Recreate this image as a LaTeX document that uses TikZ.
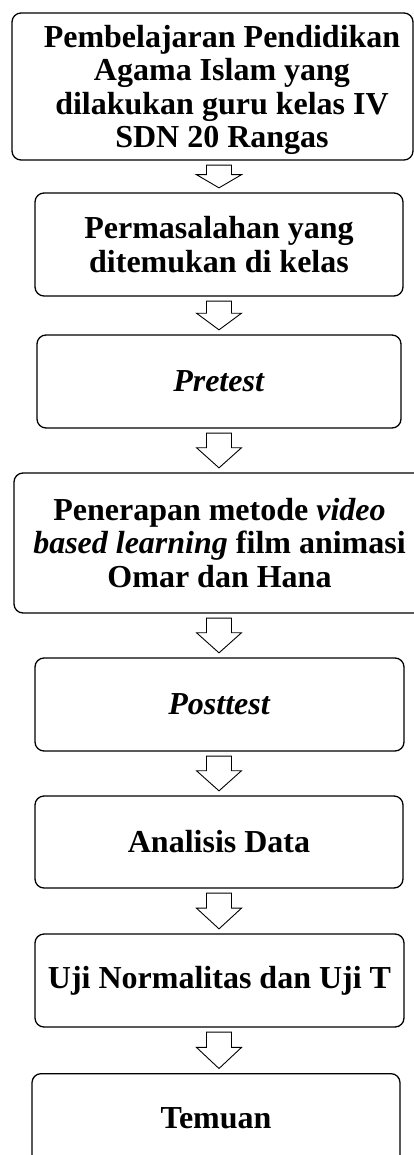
\documentclass[tikz,border=0pt]{standalone}
\usepackage{fontspec}
\setmainfont{Liberation Serif}
\usetikzlibrary{calc}
\tikzset{
  boxfont/.style={font=\bfseries\fontsize{32}{33.5}\selectfont},
  box/.style={draw, line width=1.3pt, rounded corners=9pt, boxfont, align=center, inner sep=0pt},
  arr/.style={draw, line width=0.9pt, fill=white, line join=miter}
}
\newcommand\blockarr[2]{%
  \path[arr] let \p1=(#1.south), \p2=(#2.north), \n1={\y1-4.5pt}, \n2={\y2+4.5pt}, \n3={\n1-0.42*(\n1-\n2)} in
    (206.5pt,\n1) -- (231.5pt,\n1) -- (231.5pt,\n3) -- (241.5pt,\n3) -- (219pt,\n2) -- (196.5pt,\n3) -- (206.5pt,\n3) -- cycle;}
\begin{document}
\begin{tikzpicture}[x=1pt,y=-1pt]
\useasboundingbox (0,0) rectangle (414,1155);
\node[box, minimum width=401pt, minimum height=147pt] (b1) at (212.5,86.5) {};
\node[boxfont, align=center, inner sep=0pt] (t1) at (222,90) {Pembelajaran Pendidikan\\Agama Islam yang\\dilakukan guru kelas IV\\SDN 20 Rangas};
\node[box, minimum width=368pt, minimum height=103pt] (b2) at (219,244.5) {Permasalahan yang\\ditemukan di kelas};
\node[box, minimum width=364pt, minimum height=93pt] (b3) at (219,381.5) {\textit{Pretest}};
\node[box, minimum width=411pt, minimum height=140pt] (b4) at (219.5,543) {Penerapan metode \textit{video}\\\textit{based learning} film animasi\\Omar dan Hana};
\node[box, minimum width=369pt, minimum height=93pt] (b5) at (219.5,704.5) {\textit{Posttest}};
\node[box, minimum width=368pt, minimum height=92pt] (b6) at (219,842) {Analisis Data};
\node[box, minimum width=369pt, minimum height=93pt] (b7) at (219.5,980.5) {Uji Normalitas dan Uji T};
\node[box, minimum width=368pt, minimum height=93pt, anchor=north] (b8) at (216,1073) {};
\node[boxfont] (t8) at (216,1118) {Temuan};
\blockarr{b1}{b2}
\blockarr{b2}{b3}
\blockarr{b3}{b4}
\blockarr{b4}{b5}
\blockarr{b5}{b6}
\blockarr{b6}{b7}
\blockarr{b7}{b8}
\end{tikzpicture}
\end{document}
